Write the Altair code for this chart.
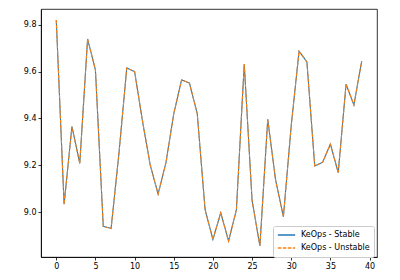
import altair as alt
import pandas as pd

x_vals = list(range(40))
stable = [9.82, 9.033, 9.365, 9.208, 9.739, 9.607, 8.939, 8.930, 9.25, 9.615,
          9.60, 9.39, 9.20, 9.077, 9.21, 9.42, 9.564, 9.551, 9.42, 9.01,
          8.883, 8.997, 8.876, 9.01, 9.632, 9.05, 8.855, 9.396, 9.137, 8.98,
          9.37, 9.687, 9.641, 9.197, 9.212, 9.29, 9.168, 9.546, 9.457, 9.645]
unstable = list(stable)
series_names = ["KeOps - Stable", "KeOps - Unstable"]
colors = ["#1f77b4", "#ff7f0e"]
dashes = [[1, 0], [3.5, 1.5]]

rows = []
for name, vals in zip(series_names, [stable, unstable]):
    for xv, yv in zip(x_vals, vals):
        rows.append({"x": xv, "y": yv, "series": name})
df = pd.DataFrame(rows)

leg = alt.Legend(title=None, orient="none", legendX=232, legendY=217)

chart = alt.Chart(df).mark_line(strokeWidth=1.1).encode(
    x=alt.X("x:Q", scale=alt.Scale(domain=[-1.95, 40.95], nice=False, zero=False),
            axis=alt.Axis(values=[0, 5, 10, 15, 20, 25, 30, 35, 40], title=None, grid=False,
                          format="d")),
    y=alt.Y("y:Q", scale=alt.Scale(domain=[8.808, 9.867], nice=False, zero=False),
            axis=alt.Axis(values=[9.0, 9.2, 9.4, 9.6, 9.8], title=None, grid=False, format=".1f")),
    color=alt.Color("series:N", scale=alt.Scale(domain=series_names, range=colors), legend=leg),
    strokeDash=alt.StrokeDash("series:N", scale=alt.Scale(domain=series_names, range=dashes), legend=leg),
    detail="series:N",
).properties(
    width=336, height=248,
    autosize=alt.AutoSizeParams(type="none"),
    padding={"left": 41, "top": 9, "right": 23, "bottom": 23},
).configure_view(
    stroke="black", strokeWidth=0.8
).configure_axis(
    domainColor="black", domainWidth=0.8, tickColor="black", tickWidth=0.8, tickSize=3,
    labelFont="DejaVu Sans", labelFontSize=8, labelColor="black", labelPadding=2,
).configure_legend(
    labelFont="DejaVu Sans", labelFontSize=8, labelColor="black",
    symbolType="stroke", symbolSize=300, symbolStrokeWidth=1.3, clipHeight=10,
    strokeColor="#cccccc", fillColor="white", padding=4, cornerRadius=2,
    rowPadding=3, labelOffset=5, labelLimit=200,
)

chart.save("out.html", embed_options={"renderer": "svg", "actions": False})
